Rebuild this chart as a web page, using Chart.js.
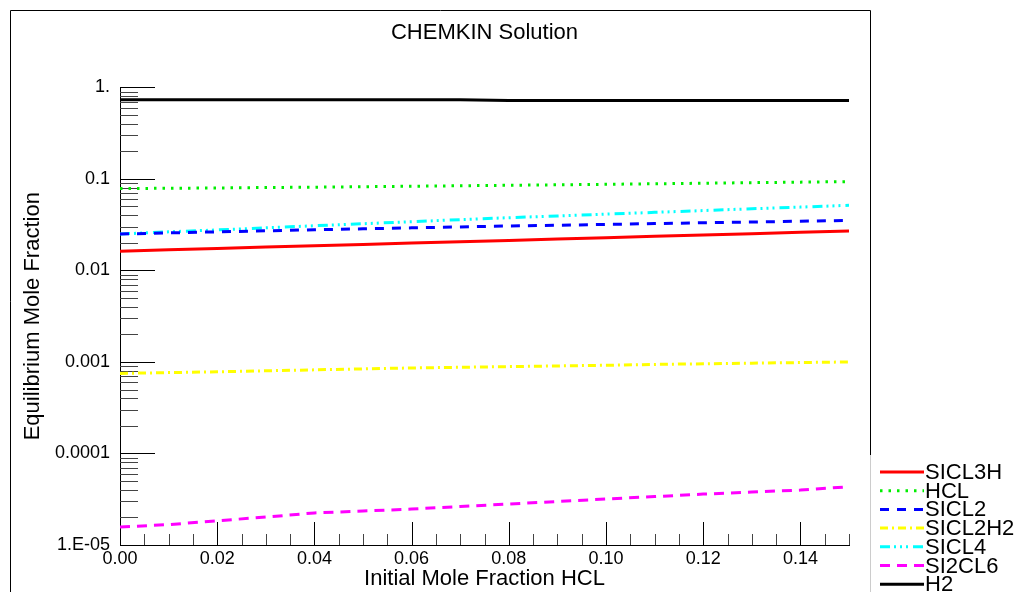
<!DOCTYPE html>
<html><head><meta charset="utf-8">
<script src="https://cdn.jsdelivr.net/npm/chart.js@4.4.0/dist/chart.umd.min.js"></script>
<style>html,body{margin:0;padding:0;background:#fff;overflow:hidden}#wrap{width:1022px;height:592px;position:relative}</style>
</head><body><div id="wrap"><canvas id="c" width="1022" height="592"></canvas></div>
<script>
const xValues = [0,0.01,0.02,0.03,0.04,0.05,0.06,0.07,0.08,0.09,0.10,0.11,0.12,0.13,0.14,0.15];
const sicl3h = [0.0162,0.0168,0.0174,0.0180,0.0186,0.0192,0.0199,0.0206,0.0213,0.0220,0.0228,0.0236,0.0244,0.0252,0.0261,0.0270];
const hcl = [0.0785,0.0790,0.0797,0.0805,0.0812,0.0822,0.0832,0.0842,0.0852,0.0862,0.0873,0.0885,0.0897,0.0910,0.0922,0.0935];
const sicl2 = [0.0250,0.0257,0.0264,0.0271,0.0278,0.0285,0.0292,0.0299,0.0306,0.0312,0.0318,0.0325,0.0332,0.0338,0.0345,0.0352];
const sicl2h2 = [0.00075,0.000765,0.00078,0.0008,0.00082,0.00084,0.00086,0.000875,0.00089,0.000905,0.00092,0.00094,0.000955,0.00097,0.000985,0.001];
const sicl4 = [0.0250,0.0264,0.0277,0.0292,0.0308,0.0324,0.0341,0.0359,0.0377,0.0394,0.0412,0.0431,0.0451,0.0472,0.0492,0.0515];
const si2cl6 = [1.57e-5,1.67e-5,1.84e-5,2.02e-5,2.24e-5,2.35e-5,2.47e-5,2.63e-5,2.80e-5,2.99e-5,3.18e-5,3.38e-5,3.60e-5,3.79e-5,3.98e-5,4.33e-5];
const h2 = [0.735,0.735,0.735,0.735,0.735,0.735,0.735,0.735,0.718,0.718,0.718,0.718,0.718,0.718,0.718,0.718];

const yTickValues = [1e-5,1e-4,1e-3,1e-2,1e-1,1];
const yTickLabels = ['1.E-05','0.0001','0.001','0.01','0.1','1.'];
const yMinorMultipliers = [2,3,4,5,6,7,8,9];
const xTickValues = [0,0.02,0.04,0.06,0.08,0.10,0.12,0.14];
const xTickLabels = ['0.00','0.02','0.04','0.06','0.08','0.10','0.12','0.14'];
const xMinorStep = 0.005;
const xMin = 0, xMax = 0.15;

const FONT = "'Liberation Sans', Arial, Helvetica, sans-serif";

function pts(arr){ return xValues.map((x,i)=>({x:x,y:arr[i]})); }

const seriesDefs = [
  {label:'SICL3H', data:sicl3h, color:'#ff0000', dash:[]},
  {label:'HCL', data:hcl, color:'#00ee00', dash:[2.5,6]},
  {label:'SICL2', data:sicl2, color:'#0000ff', dash:[9,8]},
  {label:'SICL2H2', data:sicl2h2, color:'#ffff00', dash:[8,4,2,4]},
  {label:'SICL4', data:sicl4, color:'#00ffff', dash:[10,4,2,4,2,4,2,5]},
  {label:'SI2CL6', data:si2cl6, color:'#ff00ff', dash:[10,7]},
  {label:'H2', data:h2, color:'#000000', dash:[]}
];

const framePlugin = {
  id:'frame',
  beforeDraw(chart){
    const ctx = chart.ctx;
    ctx.save();
    ctx.fillStyle='#fff';
    ctx.fillRect(0,0,chart.width,chart.height);
    ctx.strokeStyle='#000';
    ctx.lineWidth=1;
    ctx.beginPath();
    ctx.moveTo(10.5,592); ctx.lineTo(10.5,10.5); ctx.lineTo(870.5,10.5); ctx.lineTo(870.5,455);
    ctx.stroke();
    ctx.strokeStyle='#cccccc';
    ctx.beginPath(); ctx.moveTo(870.5,455); ctx.lineTo(870.5,592); ctx.stroke();
    ctx.restore();
  },
  beforeDatasetsDraw(chart){
    const ctx = chart.ctx, xs = chart.scales.x, ys = chart.scales.y;
    const left = chart.chartArea.left, bottom = chart.chartArea.bottom;
    ctx.save();
    ctx.lineWidth=1;
    // y ticks inside
    for (let d=0; d<yTickValues.length; d++){
      const v = yTickValues[d];
      const py = Math.round(ys.getPixelForValue(v))+0.5;
      ctx.strokeStyle='#000';
      ctx.beginPath(); ctx.moveTo(left,py); ctx.lineTo(left+35,py); ctx.stroke();
      if (d < yTickValues.length-1){
        ctx.strokeStyle='#444';
        yMinorMultipliers.forEach(m=>{
          const pm = Math.round(ys.getPixelForValue(v*m))+0.5;
          ctx.beginPath(); ctx.moveTo(left,pm); ctx.lineTo(left+18,pm); ctx.stroke();
        });
      }
    }
    // x ticks inside
    const n = Math.round((xMax-xMin)/xMinorStep);
    for (let i=0;i<=n;i++){
      const v = xMin + i*xMinorStep;
      const isMajor = xTickValues.some(t=>Math.abs(t-v)<1e-9);
      const px = Math.round(xs.getPixelForValue(v))+0.5;
      ctx.strokeStyle = isMajor ? '#000' : '#444';
      ctx.beginPath(); ctx.moveTo(px,bottom); ctx.lineTo(px,bottom-(isMajor?23:11)); ctx.stroke();
    }
    ctx.restore();
  },
  afterDraw(chart){
    const ctx = chart.ctx;
    ctx.save();
    const y0 = 472, step = 18.7;
    chart.data.datasets.forEach((ds,i)=>{
      const y = y0 + i*step;
      ctx.strokeStyle = ds.borderColor;
      ctx.lineWidth = 3;
      ctx.setLineDash(ds.borderDash || []);
      ctx.beginPath(); ctx.moveTo(880,y); ctx.lineTo(924,y); ctx.stroke();
      ctx.setLineDash([]);
      ctx.fillStyle='#000';
      ctx.font = "22px " + FONT;
      ctx.textBaseline='middle';
      ctx.textAlign='left';
      ctx.fillText(ds.label, 925, y+1);
    });
    ctx.restore();
  }
};

new Chart(document.getElementById('c'), {
  type:'line',
  data:{
    datasets: seriesDefs.map(s=>({
      label:s.label, data:pts(s.data), borderColor:s.color, backgroundColor:s.color,
      borderDash:s.dash, borderWidth:3, pointRadius:0, tension:0, fill:false
    }))
  },
  options:{
    responsive:false, animation:false, devicePixelRatio:1,
    layout:{padding:{left:0,top:0,right:173,bottom:0}},
    plugins:{
      legend:{display:false},
      tooltip:{enabled:false},
      title:{display:true, text:'CHEMKIN Solution', fullSize:false, color:'#000',
        font:{family:FONT, size:22, weight:'normal'}, padding:{top:20,bottom:41}}
    },
    scales:{
      x:{type:'linear', min:xMin, max:xMax,
        grid:{display:false, drawTicks:false},
        border:{display:true, color:'#000', width:1},
        afterBuildTicks(s){ s.ticks = xTickValues.map(v=>({value:v})); },
        afterFit(s){ s.height = 47; },
        ticks:{autoSkip:false, maxRotation:0, color:'#000', padding:3,
          font:{family:FONT, size:18},
          callback(v){ const i = xTickValues.findIndex(t=>Math.abs(t-v)<1e-9); return i>=0 ? xTickLabels[i] : ''; }},
        title:{display:true, text:'Initial Mole Fraction HCL', color:'#000',
          font:{family:FONT, size:22}, padding:{top:0,bottom:0}}
      },
      y:{type:'logarithmic', min:1e-5, max:1,
        grid:{display:false, drawTicks:false},
        border:{display:true, color:'#000', width:1},
        afterBuildTicks(s){ s.ticks = yTickValues.map(v=>({value:v})); },
        afterFit(s){ s.width = 120; },
        ticks:{autoSkip:false, color:'#000', padding:10,
          font:{family:FONT, size:18},
          callback(v){ const i = yTickValues.findIndex(t=>Math.abs(Math.log10(t)-Math.log10(v))<1e-6); return i>=0 ? yTickLabels[i] : ''; }},
        title:{display:true, text:'Equilibrium Mole Fraction', color:'#000',
          font:{family:FONT, size:22}, padding:{top:20,bottom:0}}
      }
    }
  },
  plugins:[framePlugin]
});
</script></body></html>
